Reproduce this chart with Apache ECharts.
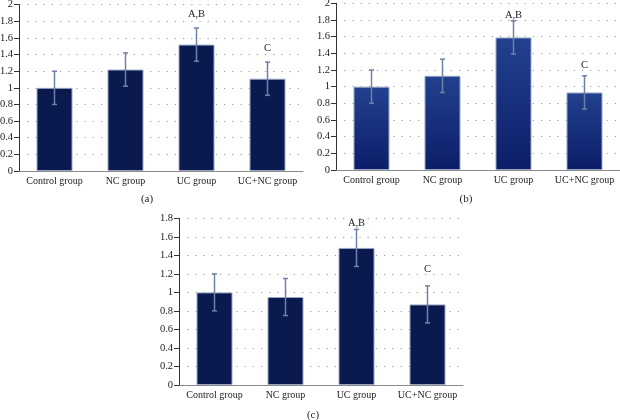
<!DOCTYPE html>
<html>
<head>
<meta charset="utf-8">
<script src="https://cdn.jsdelivr.net/npm/echarts@6/dist/echarts.min.js"></script>
<style>html,body{margin:0;padding:0;background:#fff}#c{width:620px;height:420px}</style>
</head>
<body>
<div id="c"></div>
<script>
// ---- data ----
const categories = ['Control group', 'NC group', 'UC group', 'UC+NC group'];
const meansA = [1.00, 1.22, 1.52, 1.11];
const sdA = [0.20, 0.20, 0.20, 0.20];
const meansB = [1.00, 1.13, 1.59, 0.93];
const sdB = [0.20, 0.20, 0.20, 0.20];
const meansC = [1.00, 0.95, 1.48, 0.87];
const sdC = [0.20, 0.20, 0.20, 0.20];
const sigLabels = ['', '', 'A,B', 'C'];
const panelLabels = ['(a)', '(b)', '(c)'];
const yMaxA = 2, yMaxB = 2, yMaxC = 1.8, yStep = 0.2;

// ---- style / layout ----
const FONT = '"Liberation Serif", "DejaVu Serif", serif';
const grids = [
  {left: 19, top: 4.7, width: 284, height: 166.3, outerBoundsMode: 'none', containLabel: false},
  {left: 336, top: 3.3, width: 284, height: 166.7, outerBoundsMode: 'none', containLabel: false},
  {left: 179, top: 218.3, width: 284, height: 166.7, outerBoundsMode: 'none', containLabel: false}
];
const sigOffsets = [[0, 0, 14, 14], [0, 0, 6, 11], [0, 0, 6, 17]];
const titlePos = [[147, 194], [466, 194], [313, 410]];
const navy = '#0b1a4e';
const gradB = new echarts.graphic.LinearGradient(0, 0, 0, 1, [
  {offset: 0, color: '#22418f'}, {offset: 1, color: '#0c1d68'}
]);
const panels = [
  {means: meansA, sd: sdA, max: yMaxA, color: navy},
  {means: meansB, sd: sdB, max: yMaxB, color: gradB},
  {means: meansC, sd: sdC, max: yMaxC, color: navy}
];

const xAxes = [], yAxes = [], series = [], titles = [];
panels.forEach((p, i) => {
  xAxes.push({
    type: 'category', gridIndex: i, data: categories,
    axisLine: {lineStyle: {color: '#8a8a8a', width: 1}},
    axisTick: {show: false},
    axisLabel: {color: '#222', fontFamily: FONT, fontSize: 10, margin: 5, interval: 0}
  });
  yAxes.push({
    type: 'value', gridIndex: i, min: 0, max: p.max, interval: yStep,
    axisLine: {show: true, lineStyle: {color: '#333', width: 1}},
    axisTick: {show: true, length: 5, lineStyle: {color: '#333'}},
    axisLabel: {color: '#222', fontFamily: FONT, fontSize: 10.5, margin: 6},
    splitLine: {show: true, lineStyle: {color: '#9a9a9a', type: [1.2, 7], width: 1.2}}
  });
  series.push({
    type: 'bar', xAxisIndex: i, yAxisIndex: i, data: p.means, barWidth: 36,
    itemStyle: {color: p.color, borderColor: '#9aa5c4', borderWidth: 1},
    z: 2
  });
  const errData = p.means.map((m, k) => [k, m, p.sd[k]]);
  series.push({
    type: 'custom', xAxisIndex: i, yAxisIndex: i, data: errData,
    encode: {x: 0, y: 1}, z: 5,
    renderItem: function (params, api) {
      const k = api.value(0), m = api.value(1), s = api.value(2);
      const top = api.coord([k, m + s]);
      const bot = api.coord([k, m - s]);
      const cap = 2.5;
      const st = {stroke: '#6f80a6', lineWidth: 1.5};
      const children = [
        {type: 'line', shape: {x1: top[0], y1: top[1], x2: bot[0], y2: bot[1]}, style: st},
        {type: 'line', shape: {x1: top[0] - cap, y1: top[1], x2: top[0] + cap, y2: top[1]}, style: st},
        {type: 'line', shape: {x1: bot[0] - cap, y1: bot[1], x2: bot[0] + cap, y2: bot[1]}, style: st}
      ];
      const lab = sigLabels[k];
      if (lab) {
        children.push({
          type: 'text', x: top[0], y: top[1] - sigOffsets[i][k],
          style: {text: lab, fill: '#222', font: '10.5px ' + FONT, align: 'center', verticalAlign: 'middle'}
        });
      }
      return {type: 'group', children: children};
    }
  });
  titles.push({
    text: panelLabels[i], left: titlePos[i][0], top: titlePos[i][1],
    textAlign: 'center', padding: 0,
    textStyle: {fontFamily: FONT, fontSize: 11, fontWeight: 'normal', color: '#222'}
  });
});

const chart = echarts.init(document.getElementById('c'), null, {renderer: 'canvas'});
chart.setOption({
  animation: false,
  backgroundColor: '#fff',
  title: titles,
  grid: grids,
  xAxis: xAxes,
  yAxis: yAxes,
  series: series
});
</script>
</body>
</html>
